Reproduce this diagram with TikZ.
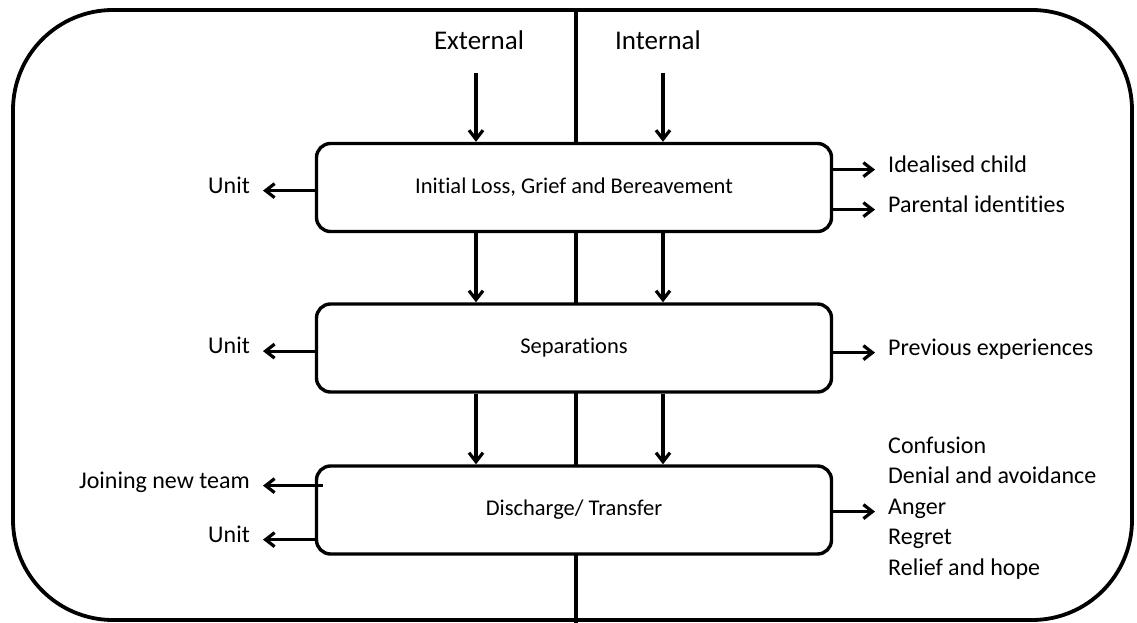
\documentclass[tikz,border=0pt]{standalone}
\usepackage{fontspec}
\setmainfont[Ligatures=NoCommon]{Carlito}
\usetikzlibrary{arrows.meta}

\begin{document}
\begin{tikzpicture}[x=1pt,y=-1pt,
    stage/.style={draw,line width=3.4pt,rounded corners=14pt,fill=white,
      minimum width=515pt,minimum height=88pt,font=\fontsize{22.5}{26}\selectfont},
    lbl/.style={inner sep=0pt,font=\fontsize{24}{28}\selectfont},
    head/.style={inner sep=0pt,font=\fontsize{27}{32}\selectfont},
    arr/.style={line width=3.2pt,-{Straight Barb[length=9pt,width=14pt]}}]
          \useasboundingbox (0,0) rectangle (1137,623);
          \draw[line width=3.8pt,rounded corners=100pt] (13,10) rectangle (1132,620);
          \draw[line width=3.4pt] (576,10) -- (576,623);
          \node[head,anchor=base] (ext) at (479,50) {External};
          \node[head,anchor=base] (int) at (658,50) {Internal};
          \coordinate (extin) at (476,73);
          \coordinate (intin) at (663,73);
          \node[stage] (loss) at (574,187.5) {Initial Loss, Grief and Bereavement};
          \node[stage] (sep) at (574,348) {Separations};
          \node[stage] (dis) at (574,510) {Discharge/ Transfer};
          \draw[arr] (extin) -- (extin |- loss.north);
          \draw[arr] (intin) -- (intin |- loss.north);
          \draw[arr] (loss.south -| extin) -- (sep.north -| extin);
          \draw[arr] (loss.south -| intin) -- (sep.north -| intin);
          \draw[arr] (sep.south -| extin) -- (dis.north -| extin);
          \draw[arr] (sep.south -| intin) -- (dis.north -| intin);
          \node[lbl,anchor=base east] (unitA) at (250,193) {Unit};
          \node[lbl,anchor=base east] (unitB) at (250,353.5) {Unit};
          \node[lbl,anchor=base east] (team) at (250,488) {Joining new team};
          \node[lbl,anchor=base east] (unitC) at (250,542) {Unit};
          \draw[arr,shorten >=13pt] (loss.west |- unitA.mid east) -- (unitA.mid east);
          \draw[arr,shorten >=13pt] (sep.west |- unitB.mid east) -- (unitB.mid east);
          \draw[arr,shorten >=13pt] ([xshift=8pt]dis.west |- team.mid east) -- (team.mid east);
          \draw[arr,shorten >=13pt] (dis.west |- unitC.mid east) -- (unitC.mid east);
          \node[lbl,anchor=base west] (child) at (888,172) {Idealised child};
          \node[lbl,anchor=base west] (ident) at (888,212) {Parental identities};
          \node[lbl,anchor=base west] (prev) at (888,355) {Previous experiences};
          \node[lbl,anchor=base west] (conf) at (888,453) {Confusion};
          \node[lbl,anchor=base west] (deny) at (888,483.5) {Denial and avoidance};
          \node[lbl,anchor=base west] (anger) at (888,514) {Anger};
          \node[lbl,anchor=base west] (regret) at (888,544.5) {Regret};
          \node[lbl,anchor=base west] (hope) at (888,575) {Relief and hope};
          \draw[arr,shorten >=13pt] (loss.east |- child.mid west) -- (child.mid west);
          \draw[arr,shorten >=13pt] (loss.east |- ident.mid west) -- (ident.mid west);
          \draw[arr,shorten >=13pt] (sep.east |- prev.mid west) -- (prev.mid west);
          \draw[arr,shorten >=13pt] (dis.east |- anger.mid west) -- (anger.mid west);
        \end{tikzpicture}
\end{document}
